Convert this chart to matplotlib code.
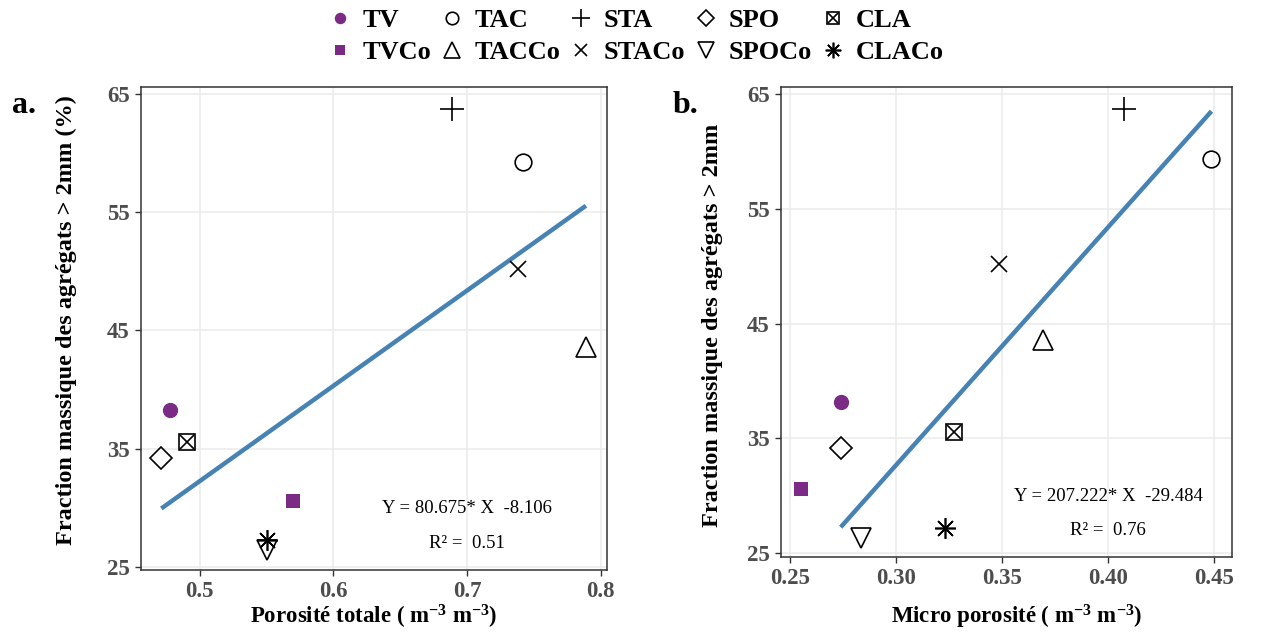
import matplotlib
matplotlib.use("Agg")
import matplotlib.pyplot as plt
from matplotlib.lines import Line2D
from matplotlib.legend_handler import HandlerTuple
import numpy as np

plt.rcParams['font.family'] = ['Liberation Serif', 'DejaVu Serif']
plt.rcParams['mathtext.fontset'] = 'custom'
plt.rcParams['mathtext.rm'] = 'Liberation Serif:bold'
plt.rcParams['mathtext.it'] = 'Liberation Serif:bold'
plt.rcParams['mathtext.bf'] = 'Liberation Serif:bold'
plt.rcParams['mathtext.default'] = 'rm'

# ---- data ----
treatments = ["TV", "TVCo", "TAC", "TACCo", "STA", "STACo", "SPO", "SPOCo", "CLA", "CLACo"]
porosite_totale = [0.4776, 0.5698, 0.742, 0.789, 0.689, 0.738, 0.4714, 0.5508, 0.4906, 0.5508]
micro_porosite = [0.2739, 0.2550, 0.4487, 0.3694, 0.4074, 0.3486, 0.2739, 0.2833, 0.3273, 0.3232]
fraction_a = [38.27, 30.6, 59.27, 43.6, 63.7, 50.17, 34.18, 26.4, 35.53, 27.3]
fraction_b = [38.2, 30.56, 59.31, 43.57, 63.67, 50.2, 34.14, 26.3, 35.53, 27.2]
fit_a = (80.675, -8.106, 0.51)
fit_b = (207.222, -29.484, 0.76)
x_ticks_a = [0.5, 0.6, 0.7, 0.8]
x_ticks_b = [0.25, 0.30, 0.35, 0.40, 0.45]
y_ticks = [25, 35, 45, 55, 65]

PURPLE = "#7B2A86"
BLUE = "#4682B4"

styles = {
    "TV":    dict(marker="o", ms=11, mfc=PURPLE, mec=PURPLE, mew=0),
    "TVCo":  dict(marker="s", ms=10.5, mfc=PURPLE, mec=PURPLE, mew=0),
    "TAC":   dict(marker="o", ms=12, mfc="none", mec="black", mew=1.2),
    "TACCo": dict(marker="^", ms=15, mfc="none", mec="black", mew=1.2),
    "STA":   dict(marker="+", ms=17, mfc="none", mec="black", mew=1.2),
    "STACo": dict(marker="x", ms=12, mfc="none", mec="black", mew=1.2),
    "SPO":   dict(marker="D", ms=11, mfc="none", mec="black", mew=1.2),
    "SPOCo": dict(marker="v", ms=15, mfc="none", mec="black", mew=1.2),
    "CLA":   [dict(marker="s", ms=12, mfc="none", mec="black", mew=1.2),
              dict(marker="x", ms=10, mfc="none", mec="black", mew=1.2)],
    "CLACo": dict(marker=(8, 2, 0), ms=15, mfc="none", mec="black", mew=1.2),
}

legend_scale = 0.75

fig = plt.figure(figsize=(12.61, 6.33), dpi=100)
ax_a = fig.add_axes([0.1116, 0.0995, 0.3695, 0.7626])
ax_b = fig.add_axes([0.6191, 0.1205, 0.3581, 0.7416])


def draw_panel(ax, xs, ys, fit, xlim, ylim, xticks, xticklabels, text_x):
    ax.set_facecolor("white")
    for name, x, y in zip(treatments, xs, ys):
        st = styles[name]
        sts = st if isinstance(st, list) else [st]
        for s in sts:
            ax.plot([x], [y], linestyle="none", zorder=4, **s)
    # regression line over non-TV points
    fx = [x for n, x in zip(treatments, xs) if not n.startswith("TV")]
    xline = np.array([min(fx), max(fx)])
    ax.plot(xline, fit[0] * xline + fit[1], color=BLUE, lw=3.2, zorder=3,
            solid_capstyle="butt")
    ax.set_xlim(*xlim)
    ax.set_ylim(*ylim)
    ax.set_xticks(xticks)
    ax.set_xticklabels(xticklabels)
    ax.set_yticks(y_ticks)
    ax.grid(True, color="#EBEBEB", lw=1.1, zorder=0)
    ax.set_axisbelow(True)
    for sp in ax.spines.values():
        sp.set_color("#333333")
        sp.set_linewidth(1.1)
    ax.tick_params(axis="both", color="#333333", length=4, width=1.0,
                   labelsize=16.5, labelcolor="#4D4D4D")
    ax.tick_params(axis="x", pad=4)
    ax.tick_params(axis="y", pad=4)
    for lab in ax.get_xticklabels() + ax.get_yticklabels():
        lab.set_fontweight("bold")
    ax.text(text_x, 0.128, f"Y = {fit[0]:.3f}* X  {fit[1]:.3f}", transform=ax.transAxes,
            ha="center", va="center", fontsize=13.5)
    ax.text(text_x, 0.055, f"R\u00b2 =  {fit[2]:.2f}", transform=ax.transAxes,
            ha="center", va="center", fontsize=13.5)


draw_panel(ax_a, porosite_totale, fraction_a, fit_a, (0.456, 0.8045), (24.72, 65.57),
           x_ticks_a, ["0.5", "0.6", "0.7", "0.8"], 0.70)
draw_panel(ax_b, micro_porosite, fraction_b, fit_b, (0.2456, 0.4585), (24.7, 65.58),
           x_ticks_b, ["0.25", "0.30", "0.35", "0.40", "0.45"], 0.725)

# axis titles
fig.text(0.296, 0.026, "Porosité totale ( m$^{-3}$ m$^{-3}$)", ha="center", va="center",
         fontsize=16.5, fontweight="bold")
fig.text(0.806, 0.026, "Micro porosité ( m$^{-3}$ m$^{-3}$)", ha="center", va="center",
         fontsize=16.5, fontweight="bold")
fig.text(0.053, 0.4945, "Fraction massique des agrégats > 2mm (%)", rotation=90,
         ha="center", va="center", fontsize=17.5, fontweight="bold")
fig.text(0.5650, 0.4866, "Fraction massique des agrégats > 2mm", rotation=90,
         ha="center", va="center", fontsize=17.5, fontweight="bold")

# panel letters
fig.text(0.019, 0.834, "a.", ha="center", va="center", fontsize=23, fontweight="bold")
fig.text(0.544, 0.834, "b.", ha="center", va="center", fontsize=23, fontweight="bold")

# legend
handles = []
for name in treatments:
    st = styles[name]
    sts = st if isinstance(st, list) else [st]
    hs = []
    for s in sts:
        s2 = dict(s)
        s2["ms"] = s["ms"] * legend_scale
        hs.append(Line2D([], [], linestyle="none", **s2))
    handles.append(tuple(hs) if len(hs) > 1 else hs[0])

leg = fig.legend(handles, treatments, loc="center", bbox_to_anchor=(0.5036, 0.943),
                 ncol=5, frameon=False, handlelength=1.0, handletextpad=0.35,
                 columnspacing=0.3, labelspacing=0.32,
                 prop=dict(family="Liberation Serif", weight="bold", size=19),
                 handler_map={tuple: HandlerTuple(ndivide=1, pad=0)})

fig.savefig("out.png", dpi=100, facecolor="white")
